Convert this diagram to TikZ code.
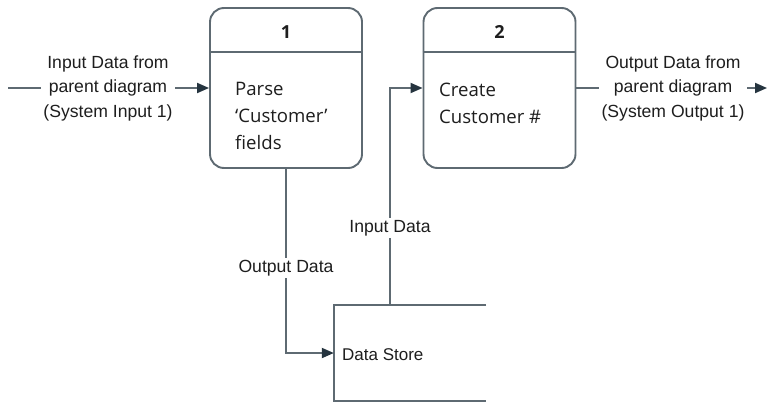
\documentclass[tikz,border=0pt]{standalone}
\usepackage{fontspec}
\setmainfont{Open Sans}
\newfontfamily\lblfont{Liberation Sans}
\usetikzlibrary{arrows.meta}
\definecolor{linec}{HTML}{5E6A72}
\definecolor{headc}{HTML}{25343F}
\definecolor{txtc}{HTML}{1E1E1E}
\begin{document}
\begin{tikzpicture}[x=1pt,y=-1pt,
  flow/.style={draw=linec,line width=1.9pt,-{Triangle[length=12pt,width=10pt,color=headc]}},
  proc/.style={draw=linec,line width=1.9pt,rounded corners=14pt,minimum width=152pt,minimum height=160pt,inner sep=0pt},
  store/.style={draw=linec,line width=1.9pt},
  lbl/.style={fill=white,inner sep=2.5pt,align=center,text=txtc,font=\lblfont\fontsize{17.6}{24.5}\selectfont},
  btxt/.style={anchor=west,align=left,inner sep=0pt,text=txtc,font=\fontsize{18.6}{27}\selectfont},
  num/.style={text=txtc,inner sep=0pt,font=\bfseries\fontsize{18}{20}\selectfont}]
\useasboundingbox[fill=white] (0,0) rectangle (767,402);
% processes
\node[proc] (p1) at (286,88) {};
\node[proc] (p2) at (499.5,88) {};
\draw[store] (p1.west |- 0,52) coordinate (h1a) -- (p1.east |- 0,52) coordinate (h1b);
\draw[store] (p2.west |- 0,52) coordinate (h2a) -- (p2.east |- 0,52) coordinate (h2b);
\node[num] (n1) at (286,32) {1};
\node[num] (n2) at (499.5,32) {2};
\node[btxt] (t1) at (235,116) {Parse\\‘Customer’\\fields};
\node[btxt] (t2) at (439,103) {Create\\Customer \#};
% data store
\node[inner sep=0pt,minimum width=152pt,minimum height=96pt] (ds) at (410,353) {};
\draw[store] (ds.north east) -- (ds.north west) -- (ds.south west) -- (ds.south east);
\node[anchor=west,inner sep=0pt,text=txtc,font=\lblfont\fontsize{17}{20}\selectfont] (dst) at (342,355) {Data Store};
% connectors
\coordinate (inst) at (8,88);
\coordinate (outend) at (767,88);
\coordinate (dsin) at (390,305);
\draw[flow] (inst) -- (p1.west);
\draw[flow] (p2.east) -- (outend);
\draw[flow] (p1.south) |- (ds.west);
\draw[flow] (dsin) |- (p2.west);
% labels
\node[lbl] (lin) at (108,88) {Input Data from\\parent diagram\\(System Input 1)};
\node[lbl] (lout) at (673,88) {Output Data from\\parent diagram\\(System Output 1)};
\node[lbl] (lid) at (390,228) {Input Data};
\node[lbl] (lod) at (286,268) {Output Data};
\end{tikzpicture}
\end{document}
